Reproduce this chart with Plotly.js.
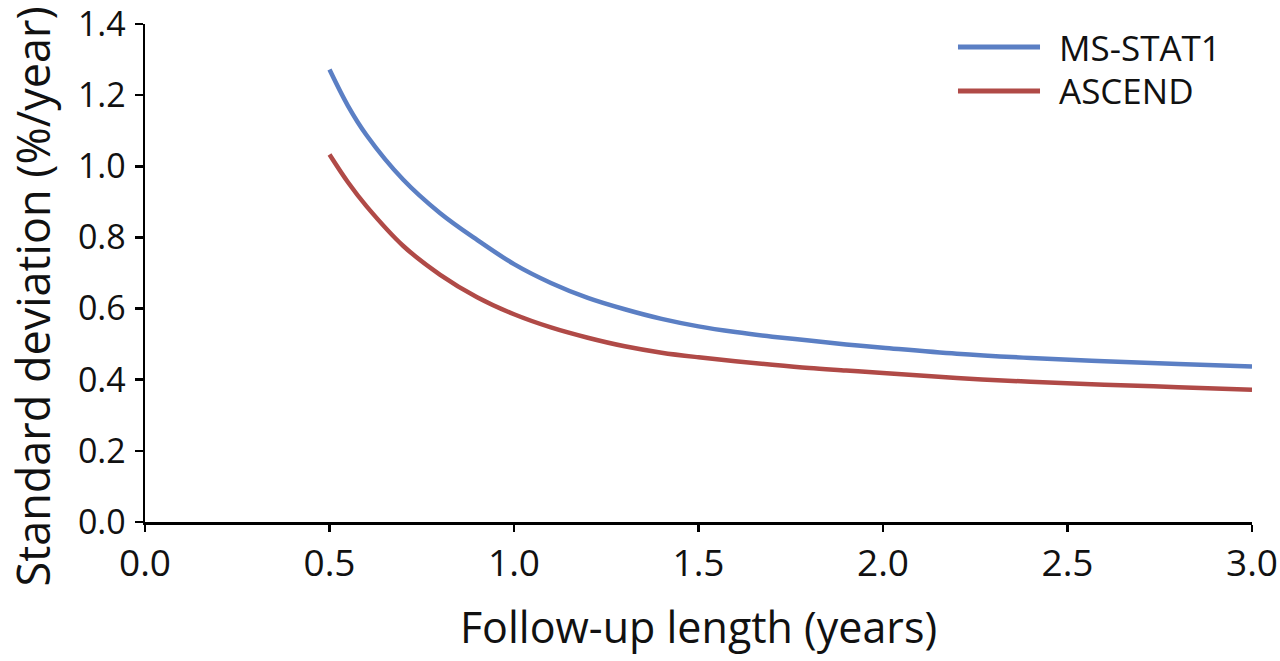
<!DOCTYPE html>
<html>
<head>
<meta charset="utf-8">
<script src="https://cdn.plot.ly/plotly-3.0.1.min.js"></script>
<style>html,body{margin:0;padding:0;background:#fff;}#chart{width:1280px;height:661px;}</style>
</head>
<body>
<div id="chart"></div>
<script>
const followUp = [0.5, 0.55, 0.6, 0.7, 0.8, 0.9, 1.0, 1.1, 1.2, 1.3, 1.4, 1.5, 1.6, 1.7, 1.8, 1.9, 2.0, 2.2, 2.4, 2.6, 2.8, 3.0];
const msStat1 = [1.272, 1.170, 1.088, 0.962, 0.868, 0.793, 0.725, 0.672, 0.630, 0.598, 0.571, 0.550, 0.534, 0.521, 0.510, 0.499, 0.490, 0.473, 0.461, 0.452, 0.444, 0.437];
const ascend = [1.033, 0.955, 0.888, 0.776, 0.695, 0.632, 0.584, 0.547, 0.518, 0.494, 0.476, 0.463, 0.452, 0.442, 0.433, 0.426, 0.419, 0.405, 0.394, 0.386, 0.379, 0.372];
const seriesNames = ['MS-STAT1', 'ASCEND'];
const seriesColors = ['#5B7FC4', '#B04A47'];
const xTicks = [0, 0.5, 1, 1.5, 2, 2.5, 3];
const xTickLabels = ['0.0', '0.5', '1.0', '1.5', '2.0', '2.5', '3.0'];
const yTicks = [0, 0.2, 0.4, 0.6, 0.8, 1.0, 1.2, 1.4];
const yTickLabels = ['0.0', '0.2', '0.4', '0.6', '0.8', '1.0', '1.2', '1.4'];
const xTitle = 'Follow-up length (years)';
const yTitle = 'Standard deviation (%/year)';

const font = 'Open Sans, Noto Sans, DejaVu Sans, sans-serif';
const traces = [
  {x: followUp, y: msStat1, name: seriesNames[0], mode: 'lines', line: {color: seriesColors[0], width: 4.5, shape: 'spline', smoothing: 1}},
  {x: followUp, y: ascend, name: seriesNames[1], mode: 'lines', line: {color: seriesColors[1], width: 4.5, shape: 'spline', smoothing: 1}}
];

// Legend drawn as line shapes + text annotations (paper coordinates)
const legendRows = [0.9538, 0.8655];
const legendShapes = seriesNames.map((n, i) => ({
  type: 'line', xref: 'paper', yref: 'paper', x0: 0.7344, x1: 0.8085, y0: legendRows[i], y1: legendRows[i],
  line: {color: seriesColors[i], width: 5}
}));
const legendTexts = seriesNames.map((n, i) => ({
  text: n, xref: 'paper', yref: 'paper', x: 0.8238, y: legendRows[i], xanchor: 'left', yanchor: 'middle',
  showarrow: false, font: {family: font, size: 35, color: '#111'}
}));

const axisCommon = {
  showgrid: false, zeroline: false, showline: true, linecolor: '#000', linewidth: 2.5,
  ticks: 'outside', ticklen: 8, tickwidth: 2.5, tickcolor: '#000',
  ticklabeloverflow: 'allow',
  tickfont: {family: font, size: 34, color: '#111'}
};
const layout = {
  width: 1280, height: 661,
  margin: {l: 145, r: 28, t: 24, b: 139},
  paper_bgcolor: '#fff', plot_bgcolor: '#fff',
  font: {family: font, color: '#111'},
  xaxis: Object.assign({}, axisCommon, {
    range: [0, 3], tickvals: xTicks, ticktext: xTickLabels, ticklen: 7,
    tickfont: {family: font, size: 37, color: '#111'},
    title: {text: xTitle, font: {family: font, size: 43, color: '#111'}, standoff: 27}
  }),
  yaxis: Object.assign({}, axisCommon, {
    range: [0, 1.4], tickvals: yTicks, ticktext: yTickLabels, ticklabelstandoff: 2
  }),
  shapes: legendShapes,
  annotations: [{
    text: yTitle, xref: 'paper', yref: 'paper', x: -0.1025, y: 0.4518,
    xanchor: 'center', yanchor: 'middle', textangle: -90, showarrow: false,
    font: {family: font, size: 45, color: '#111'}
  }].concat(legendTexts),
  showlegend: false
};
Plotly.newPlot('chart', traces, layout, {displayModeBar: false, staticPlot: true});
</script>
</body>
</html>
